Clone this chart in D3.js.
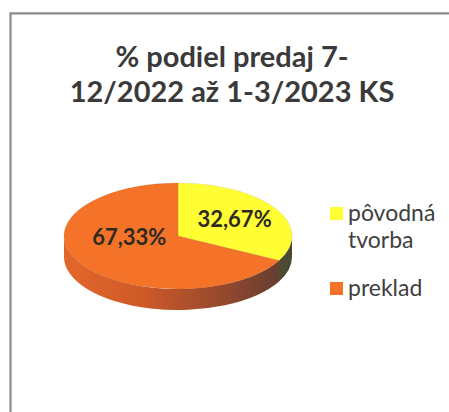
<!DOCTYPE html>
<html>
<head>
<meta charset="utf-8">
<script src="https://cdn.jsdelivr.net/npm/d3@7"></script>
<style>
  body { margin: 0; background: #fff; }
  svg { display: block; }
</style>
</head>
<body>
<div id="chart"></div>
<script>
// chart data
const categories = ["pôvodná tvorba", "preklad"];
const legendLines = [["pôvodná", "tvorba"], ["preklad"]];
const shares = [32.67, 67.33];
const valueLabels = ["32,67%", "67,33%"];
const titleLines = ["% podiel predaj 7-", "12/2022 až 1-3/2023 KS"];

const W = 449, H = 412;
const colors = d3.scaleOrdinal().domain(categories).range(["#FFFF33", "#F47328"]);

let svg = d3.select("#chart").append("svg")
    .attr("width", W).attr("height", H);

// frame (only top and left edges show on the scan)
svg.append("path")
    .attr("d", "M10.5," + H + "V13.3H" + W)
    .attr("fill", "none")
    .attr("stroke", "#8a8a8a")
    .attr("stroke-width", 2.2);

// title
svg.append("text")
    .attr("x", 232).attr("y", 67)
    .attr("text-anchor", "middle")
    .style("font-family", "Lato, 'Open Sans', sans-serif")
    .style("font-weight", "bold")
    .style("font-size", "29px")
    .attr("fill", "#3a3a3a")
    .selectAll("tspan")
    .data(titleLines)
    .enter().append("tspan")
    .attr("x", 232)
    .attr("dy", (d, i) => i ? 35 : 0)
    .text(d => d);

// 3D pie: ellipse top + visible side
let cx = 178, cy = 236, rx = 114, ry = 53, depth = 21;
let k = rx / ry;             // unscale factor for the group
let dz = depth * k;

let pie = d3.pie().sort(null).value(d => d.value);
let arcs = pie(categories.map((c, i) => ({name: c, value: shares[i]})));
let arc = d3.arc().innerRadius(0).outerRadius(rx);

let defs = svg.append("defs");
let sideGrad = [
    ["sideOrange", ["#E3672B", "#CF5A28", "#9A4A2E", "#5c3b30"]],
    ["sideYellow", ["#8a8a2c", "#7a7a2c", "#5e5c30", "#4a4832"]]
];
sideGrad.forEach(function(g) {
    let lg = defs.append("linearGradient")
        .attr("id", g[0])
        .attr("gradientUnits", "userSpaceOnUse")
        .attr("x1", -rx).attr("x2", rx).attr("y1", 0).attr("y2", 0);
    lg.selectAll("stop").data(g[1]).enter().append("stop")
        .attr("offset", (d, i) => i / (g[1].length - 1))
        .attr("stop-color", d => d);
});

let pg = svg.append("g")
    .attr("transform", "translate(" + cx + "," + cy + ") scale(1," + (1 / k) + ")");

// side walls, only the front half (pi/2 .. 3pi/2) is visible
function sidePath(a0, a1) {
    let s = Math.max(a0, Math.PI / 2), e = Math.min(a1, 3 * Math.PI / 2);
    if (e <= s) return null;
    let p = d3.path();
    p.moveTo(rx * Math.sin(s), -rx * Math.cos(s));
    p.arc(0, 0, rx, s - Math.PI / 2, e - Math.PI / 2);
    p.lineTo(rx * Math.sin(e), -rx * Math.cos(e) + dz);
    p.arc(0, dz, rx, e - Math.PI / 2, s - Math.PI / 2, true);
    p.closePath();
    return p.toString();
}

pg.selectAll(".side")
    .data(arcs)
    .enter().append("path")
    .attr("class", "side")
    .attr("d", d => sidePath(d.startAngle, d.endAngle))
    .attr("fill", (d, i) => i === 0 ? "url(#sideYellow)" : "url(#sideOrange)");

pg.selectAll(".slice")
    .data(arcs)
    .enter().append("path")
    .attr("class", "slice")
    .attr("d", arc)
    .attr("fill", d => colors(d.data.name))
    .attr("stroke", "rgba(120,60,20,0.25)")
    .attr("stroke-width", 0.6);

// data labels near the slice centroids
let labelPos = [{f: 0.58, dy: 0}, {f: 0.5, dy: -12}];
svg.selectAll(".val")
    .data(arcs)
    .enter().append("text")
    .attr("class", "val")
    .attr("text-anchor", "middle")
    .attr("x", (d, i) => {
        let a = (d.startAngle + d.endAngle) / 2;
        return cx + labelPos[i].f * rx * Math.sin(a);
    })
    .attr("y", (d, i) => {
        let a = (d.startAngle + d.endAngle) / 2;
        return cy - labelPos[i].f * ry * Math.cos(a) + labelPos[i].dy + 7;
    })
    .style("font-family", "Lato, 'Open Sans', sans-serif")
    .style("font-weight", "bold")
    .style("font-size", "22px")
    .attr("fill", "#2e2a22")
    .text((d, i) => valueLabels[i]);

// legend
let legendY = d3.scalePoint().domain(categories).range([207, 282]);
let lg = svg.selectAll(".legend")
    .data(categories)
    .enter().append("g")
    .attr("class", "legend")
    .attr("transform", d => "translate(330," + legendY(d) + ")");

lg.append("rect")
    .attr("width", 13).attr("height", 13)
    .attr("fill", d => colors(d));

lg.append("text")
    .attr("x", 18).attr("y", 14)
    .style("font-family", "Lato, 'Open Sans', sans-serif")
    .style("font-size", "23px")
    .attr("fill", "#404040")
    .selectAll("tspan")
    .data((d, i) => legendLines[i])
    .enter().append("tspan")
    .attr("x", 18)
    .attr("dy", (d, i) => i ? 27 : 0)
    .text(d => d);
</script>
</body>
</html>
